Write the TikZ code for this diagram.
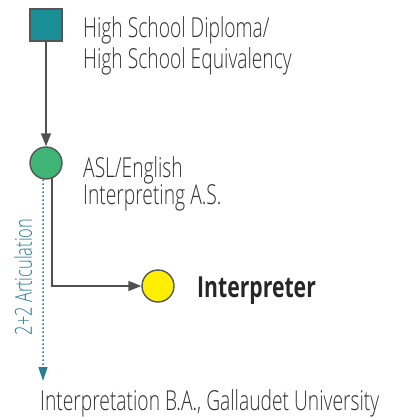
\documentclass[tikz,border=0pt]{standalone}
\usepackage{fontspec}
\IfFontExistsTF{Open Sans Light}
  {\setmainfont[FakeStretch=0.70, BoldFont={Open Sans Bold}]{Open Sans Light}}
  {\setmainfont[FakeStretch=0.66]{Open Sans}}
\usepackage{tikz}
\usetikzlibrary{arrows.meta}
\definecolor{tealbox}{RGB}{27,143,152}
\definecolor{greenstop}{RGB}{62,181,116}
\definecolor{yellowstop}{RGB}{255,238,0}
\definecolor{edgegray}{RGB}{85,85,85}
\definecolor{linegray}{RGB}{80,80,82}
\definecolor{textgray}{RGB}{50,50,52}
\definecolor{tealtext}{RGB}{42,125,145}

\begin{document}
\begin{tikzpicture}[x=1pt, y=-1pt,
    stop/.style={circle, draw=edgegray, line width=1.4pt, minimum size=32pt, inner sep=0pt},
    txt/.style={inner sep=0pt, text=textgray, align=left, font=\fontsize{27.5}{31}\selectfont},
    path/.style={draw=linegray, line width=1.6pt, -{Triangle[width=10pt, length=13pt]}}]
    \useasboundingbox (0,0) rectangle (394,417);

    % Nodes
    \node[draw=edgegray, line width=1.4pt, fill=tealbox, minimum size=32pt, inner sep=0pt] (hs) at (46,25) {};
    \node[stop, fill=greenstop] (asl) at (46,163) {};
    \node[stop, fill=yellowstop] (job) at (158,286) {};
    \coordinate (bahead) at (43,381);

    % Texts
    \node[txt, anchor=west] (hstext) at (83,46) {High School Diploma/\\High School Equivalency};
    \node[txt, anchor=west, font=\fontsize{27.5}{26}\selectfont] (asltext) at (83,184) {ASL/English\\Interpreting A.S.};
    \node[txt, anchor=base west, text=black!85, font=\fontsize{29}{32}\selectfont\bfseries\addfontfeature{FakeStretch=0.73}] (jobtext) at (197,297) {Interpreter};
    \node[txt, anchor=base west] (batext) at (40,410) {Interpretation B.A., Gallaudet University};
    \node[txt, rotate=90, text=tealtext, font=\fontsize{23.5}{26}\selectfont] (art) at (23,277) {2+2 Articulation};

    % Lines
    \draw[path] (hs) -- (asl);
    \draw[path] (asl.-68) |- (job);
    \draw[draw=tealtext, line width=1.5pt, dash pattern=on 1.5pt off 2.5pt,
        -{Triangle[width=9pt, length=14pt, fill=tealtext, sep=0pt]}] (asl.-100) -- (bahead);
\end{tikzpicture}
\end{document}
